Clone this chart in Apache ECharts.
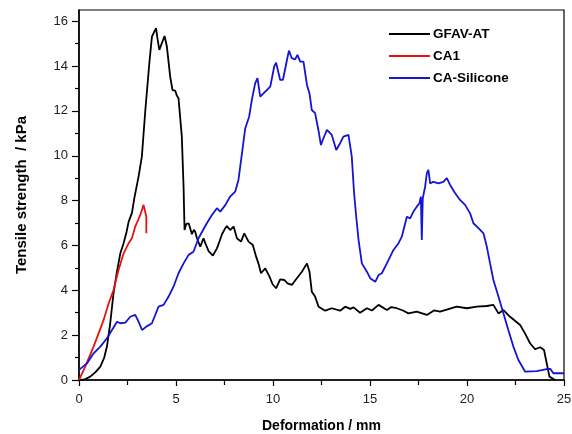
<!DOCTYPE html>
<html>
<head>
<meta charset="utf-8">
<script src="https://cdn.jsdelivr.net/npm/echarts@6/dist/echarts.min.js"></script>
<style>html,body{margin:0;padding:0;background:#fff}#c{width:572px;height:434px}</style>
</head>
<body>
<div id="c"></div>
<script>
const seriesNames = ['GFAV-AT', 'CA1', 'CA-Silicone'];
const yMajorTicks = [0, 2, 4, 6, 8, 10, 12, 14, 16];
const yMinorTicks = [1, 3, 5, 7, 9, 11, 13, 15];

const gfavAT = [[0,0],[0.3,0.03],[0.58,0.15],[0.85,0.35],[1.1,0.6],[1.3,1.0],[1.44,1.49],[1.61,2.53],[1.78,3.87],[1.95,4.8],[2.13,5.65],[2.3,6.1],[2.45,6.6],[2.56,7.06],[2.73,7.45],[2.85,8.1],[3.07,9.07],[3.24,9.96],[3.42,12.04],[3.64,14.27],[3.76,15.31],[3.97,15.69],[4.05,15.2],[4.14,14.72],[4.24,14.7],[4.41,15.34],[4.53,14.87],[4.70,13.53],[4.82,12.93],[4.96,12.9],[5.05,12.67],[5.13,12.56],[5.3,10.85],[5.39,8.62],[5.44,6.69],[5.53,6.96],[5.65,6.99],[5.72,6.8],[5.82,6.5],[5.92,6.7],[5.99,6.61],[6.08,6.32],[6.25,5.95],[6.42,6.32],[6.51,6.1],[6.68,5.75],[6.9,5.55],[7.11,5.87],[7.25,6.2],[7.37,6.5],[7.54,6.77],[7.62,6.86],[7.79,6.69],[7.97,6.84],[8.14,6.32],[8.35,6.17],[8.52,6.54],[8.74,6.17],[8.96,6.02],[9.13,5.5],[9.25,5.2],[9.38,4.76],[9.6,4.98],[9.82,4.61],[9.98,4.27],[10.16,4.09],[10.37,4.49],[10.58,4.46],[10.75,4.31],[10.97,4.24],[11.23,4.54],[11.49,4.83],[11.75,5.2],[11.88,4.83],[12.0,3.94],[12.17,3.72],[12.35,3.27],[12.69,3.09],[13.03,3.2],[13.46,3.09],[13.72,3.27],[13.98,3.17],[14.15,3.24],[14.49,3.0],[14.84,3.2],[15.1,3.1],[15.44,3.35],[15.87,3.12],[16.1,3.25],[16.38,3.2],[16.7,3.1],[16.98,2.97],[17.41,3.05],[17.93,2.9],[18.3,3.1],[18.61,3.05],[19.0,3.15],[19.47,3.27],[19.99,3.2],[20.5,3.27],[21.02,3.3],[21.36,3.35],[21.62,2.97],[21.88,3.12],[22.22,2.82],[22.74,2.45],[22.99,2.08],[23.25,1.64],[23.51,1.37],[23.77,1.46],[23.97,1.34],[24.11,0.74],[24.25,0.15],[24.54,0]];

const ca1 = [[0,0],[0.32,0.6],[0.75,1.49],[1.01,2.08],[1.27,2.68],[1.53,3.42],[1.78,4.01],[2.04,4.91],[2.3,5.65],[2.56,6.1],[2.73,6.32],[2.9,6.84],[3.16,7.36],[3.33,7.81],[3.42,7.88],[3.47,7.28],[3.47,6.54]];

const caSilicone = [[0,0.45],[0.41,0.74],[0.75,1.19],[1.1,1.49],[1.44,1.86],[1.70,2.23],[1.96,2.6],[2.13,2.53],[2.39,2.56],[2.64,2.82],[2.9,2.9],[3.07,2.6],[3.25,2.23],[3.47,2.38],[3.76,2.53],[4.1,3.27],[4.36,3.35],[4.62,3.72],[4.87,4.16],[5.13,4.76],[5.39,5.2],[5.65,5.58],[5.9,5.72],[6.16,6.32],[6.59,6.99],[6.85,7.36],[7.11,7.66],[7.28,7.51],[7.54,7.8],[7.79,8.18],[8.05,8.4],[8.22,8.92],[8.4,10.11],[8.57,11.23],[8.77,11.74],[8.91,12.49],[9.08,13.23],[9.2,13.46],[9.34,12.64],[9.6,12.86],[9.86,13.08],[10.06,13.97],[10.16,14.15],[10.37,13.38],[10.51,13.38],[10.72,14.27],[10.82,14.69],[10.97,14.35],[11.14,14.3],[11.26,14.5],[11.4,14.2],[11.57,14.2],[11.75,13.16],[11.88,12.79],[12.0,12.04],[12.17,11.9],[12.34,11.15],[12.47,10.48],[12.6,10.78],[12.78,11.15],[13.03,10.93],[13.26,10.26],[13.46,10.56],[13.63,10.85],[13.89,10.93],[14.06,9.96],[14.18,8.33],[14.29,7.28],[14.41,6.24],[14.58,5.2],[14.84,4.83],[15.01,4.54],[15.27,4.38],[15.44,4.68],[15.61,4.76],[15.87,5.2],[16.21,5.8],[16.47,6.1],[16.64,6.39],[16.9,7.28],[17.07,7.21],[17.24,7.51],[17.41,7.73],[17.55,7.88],[17.62,8.18],[17.67,6.24],[17.72,8.1],[17.84,8.62],[17.93,9.22],[18.01,9.37],[18.1,8.77],[18.27,8.84],[18.53,8.77],[18.78,8.84],[18.96,9.0],[19.13,8.7],[19.39,8.33],[19.64,8.03],[19.9,7.81],[20.16,7.43],[20.33,6.99],[20.59,6.77],[20.85,6.54],[21.02,5.95],[21.19,5.2],[21.36,4.46],[21.62,3.72],[21.88,2.97],[22.13,2.23],[22.39,1.49],[22.65,0.89],[23.0,0.37],[23.6,0.4],[24.11,0.49],[24.3,0.49],[24.45,0.3],[25,0.3]];

const colors = ['#000000', '#e41414', '#1414d4'];
const font = 'Liberation Sans, Arial, sans-serif';

const chart = echarts.init(document.getElementById('c'), null, {renderer: 'canvas'});
const mk = (name, data, color) => ({
  name, type: 'line', data, symbol: 'none', smooth: false,
  lineStyle: {color, width: 1.8}, itemStyle: {color},
  xAxisIndex: 0, yAxisIndex: 0, animation: false
});
chart.setOption({
  animation: false,
  grid: {left: 79, right: 8, top: 10, bottom: 54, show: true, borderColor: '#000', borderWidth: 1.2, backgroundColor: 'transparent', containLabel: false, outerBoundsMode: 'none'},
  legend: {
    data: seriesNames.map((n, i) => ({name: n, icon: 'rect', itemStyle: {color: colors[i]}})),
    orient: 'vertical', left: 389, top: 27, padding: 0,
    itemWidth: 41, itemHeight: 2, itemGap: 8,
    textStyle: {fontFamily: font, fontWeight: 'bold', fontSize: 13.5, color: '#000', lineHeight: 14, padding: [0, 0, 0, -2]}
  },
  xAxis: {
    type: 'value', min: 0, max: 25, interval: 5,
    name: 'Deformation / mm', nameLocation: 'middle', nameGap: 39,
    nameTextStyle: {fontFamily: font, fontWeight: 'bold', fontSize: 14, color: '#000'},
    axisLine: {lineStyle: {color: '#000', width: 1.5}},
    axisTick: {length: 6, lineStyle: {color: '#000', width: 1.2}},
    minorTick: {show: true, splitNumber: 2, length: 5, lineStyle: {color: '#000', width: 1.2}},
    axisLabel: {fontFamily: font, fontSize: 13, color: '#222', margin: 13},
    splitLine: {show: false}
  },
  yAxis: [{
    type: 'value', min: 0, max: 16.5,
    name: 'Tensile strength  / kPa', nameLocation: 'middle', nameGap: 50,
    nameTextStyle: {fontFamily: font, fontWeight: 'bold', fontSize: 15, color: '#000'},
    axisLine: {show: true, lineStyle: {color: '#000', width: 1.5}},
    axisTick: {show: true, length: 7, customValues: yMajorTicks, lineStyle: {color: '#000', width: 1.2}},
    axisLabel: {fontFamily: font, fontSize: 13, color: '#222', margin: 11, customValues: yMajorTicks},
    splitLine: {show: false}
  }, {
    type: 'value', min: 0, max: 16.5, position: 'left',
    axisLine: {show: false},
    axisTick: {show: true, length: 4, customValues: yMinorTicks, lineStyle: {color: '#000', width: 1.2}},
    axisLabel: {show: false},
    splitLine: {show: false}
  }],
  series: [mk(seriesNames[0], gfavAT, colors[0]), mk(seriesNames[1], ca1, colors[1]), mk(seriesNames[2], caSilicone, colors[2])]
});
</script>
</body>
</html>
